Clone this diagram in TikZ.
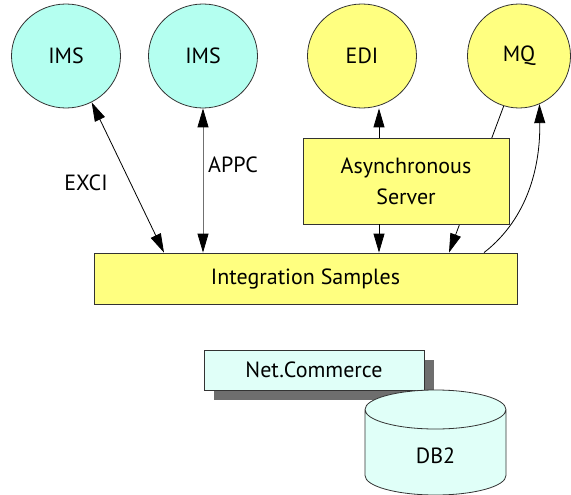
\documentclass[tikz,border=0pt]{standalone}
\usepackage{fontspec}
\setmainfont{PT Sans}
\usetikzlibrary{arrows.meta,positioning,shapes.geometric,shadows}
\definecolor{imscyan}{HTML}{B4FFF0}
\definecolor{asyyellow}{HTML}{FFFF80}
\definecolor{palecyan}{HTML}{E0FFF8}
\definecolor{shadegray}{HTML}{6E6E6E}
\definecolor{edgegray}{HTML}{333333}
\definecolor{appcgray}{HTML}{707070}

\begin{document}
\begin{tikzpicture}[x=1pt, y=-1pt, font=\fontsize{22}{31}\selectfont,
  >={Triangle[length=19pt,width=11pt,color=black]},
  sys/.style={ellipse, draw=edgegray, line width=0.8pt, minimum width=109pt, minimum height=104pt, inner sep=0pt},
  box/.style={draw=edgegray, fill=asyyellow, line width=0.8pt, inner sep=0pt, align=center},
  link/.style={line width=0.8pt}]
  \useasboundingbox (0,0) rectangle (571,495);
  % outer systems
  \node[sys, fill=imscyan] (ims1) at (66,56) {IMS};
  \node[sys, fill=imscyan] (ims2) at (203,56) {IMS};
  \node[sys, fill=asyyellow] (edi) at (362,56) {EDI};
  \node[sys, fill=asyyellow, minimum width=103pt] (mq) at (519,56) {MQ};
  \node[box, minimum width=423pt, minimum height=51pt] (integ) at (305.5,278.5) {Integration Samples};
  % mq line runs behind the server box
  \draw[link, ->] (mq.-107) -- ([xshift=143.5pt]integ.north);
  \node[box, minimum width=206pt, minimum height=86pt] (async) at (406,181) {Asynchronous\\Server};
  % connectors
  \draw[link, <->] (ims1.-61) -- ([xshift=-141.5pt]integ.north);
  \draw[link, <->, draw=appcgray] (ims2.south) -- (ims2.south |- integ.north);
  \node (lexci) at (86,183) {EXCI};
  \node (lappc) at (233,165) {APPC};
  \draw[link, ->] ([xshift=-27pt]async.north) -- ([xshift=-27pt]async.north |- edi.south);
  \draw[link, ->] ([xshift=-27pt]async.south) -- ([xshift=-27pt]async.south |- integ.north);
  \draw[link, ->] ([xshift=178.5pt]integ.north) .. controls +(45,-35) and +(1,60) .. (mq.-67);
  % database side
  \node[box, fill=palecyan, minimum width=220pt, minimum height=40pt,
    drop shadow={shadow xshift=10pt, shadow yshift=-10pt, fill=shadegray, opacity=1}] (netc) at (314,370) {Net.Commerce};
  \node[cylinder, shape border rotate=90, aspect=0.85, draw=edgegray, line width=0.8pt, fill=palecyan,
    minimum width=141pt, minimum height=105pt, anchor=shape center] (db) at (435.5,442.5) {DB2};
\end{tikzpicture}
\end{document}
